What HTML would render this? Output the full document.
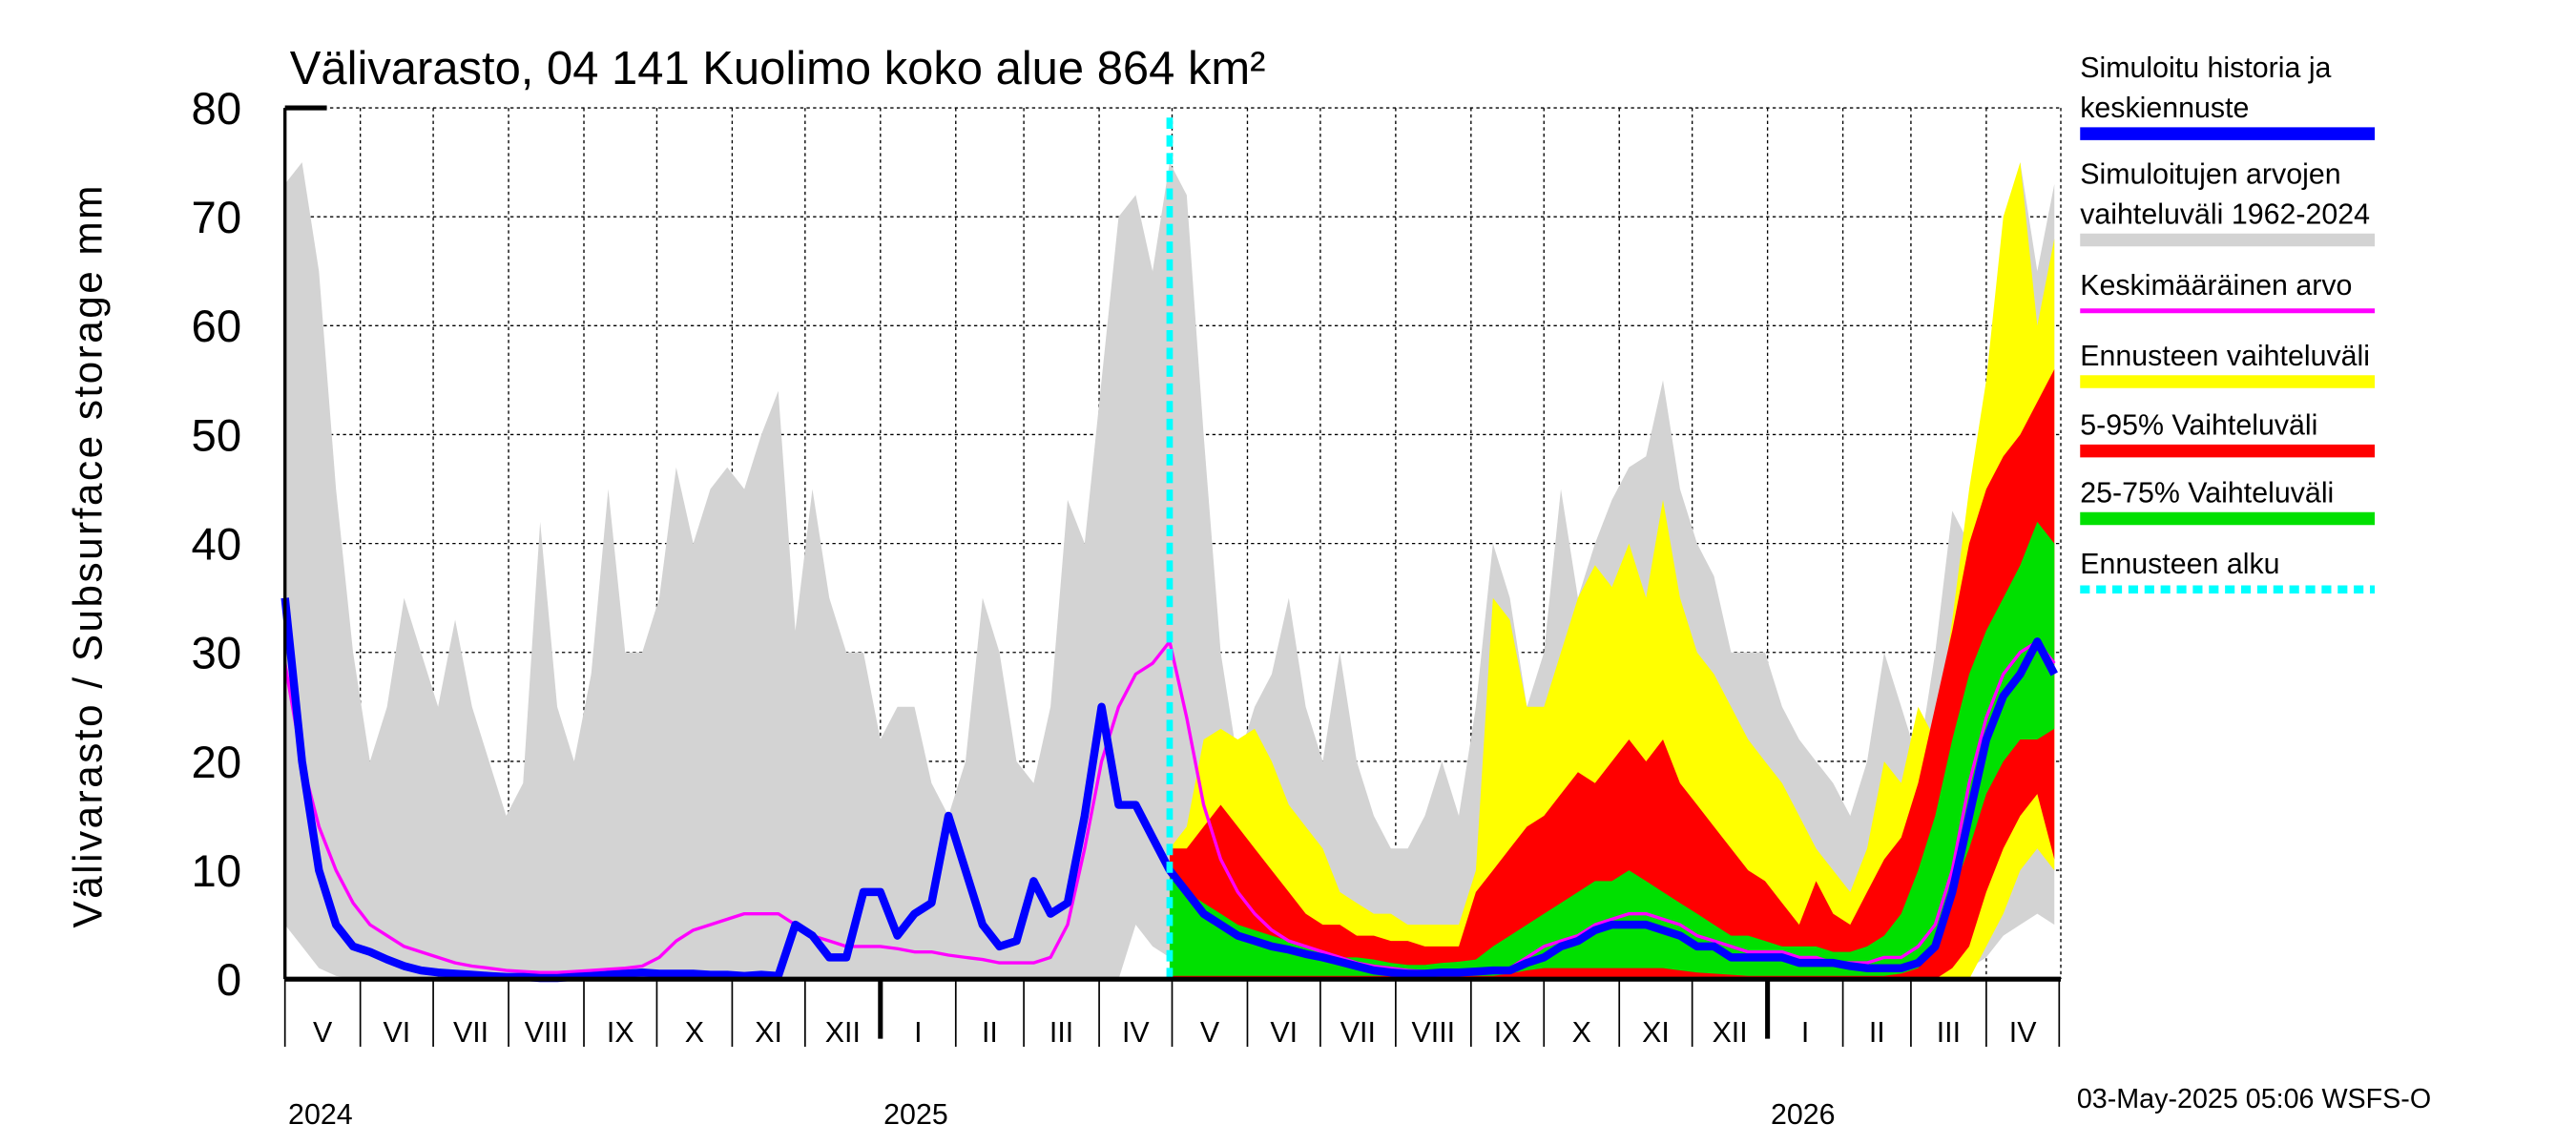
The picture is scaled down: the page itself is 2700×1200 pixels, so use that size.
<!DOCTYPE html>
<html><head><meta charset="utf-8"><style>
html,body{margin:0;padding:0;background:#fff;}
svg{display:block;font-family:"Liberation Sans",sans-serif;}
</style></head><body>
<svg id="chart" width="2700" height="1200" viewBox="0 0 1600 711" preserveAspectRatio="none" xmlns="http://www.w3.org/2000/svg">
<rect width="1600" height="711" fill="#fff"/>
<g id="grid"></g>
<g id="bands"></g>
<g id="lines"></g>
<g id="axes"></g>
<text x="180" y="52" font-size="29">Välivarasto, 04 141 Kuolimo koko alue 864 km²</text>
<text transform="translate(63,345) rotate(-90)" text-anchor="middle" font-size="25" letter-spacing="1.5">Välivarasto / Subsurface storage  mm</text>
<text x="1290" y="688" font-size="17">03-May-2025 05:06 WSFS-O</text>
<g id="legend"></g>
</svg>
<script>
// weekly samples from 2024-05-01 (week index 0..104)
const grayUpper=[73,75,65,45,30,20,25,35,30,25,33,25,20,15,18,42,25,20,28,45,30,30,35,47,40,45,47,45,50,54,32,45,35,30,30,22,25,25,18,15,20,35,30,20,18,25,44,40,55,70,72,65,75,72,50,30,20,25,28,35,25,20,30,20,15,12,12,15,20,15,25,40,35,25,30,45,35,40,44,47,48,55,45,40,37,30,30,30,25,22,20,18,15,20,30,25,20,30,43,40,55,68,75,65,73];
const grayLower=[5,3,1,0.3,0,0,0,0,0,0,0,0,0,0,0,0,0,0,0,0,0,0,0,0,0,0,0,0,0,0,0,0,0,0,0,0,0,0,0,0,0,0,0,0,0,0,0,0,0,0,5,3,2,0.5,0,0,0,0,0,0,0,0,0,0,0,0,0,0,0,0,0,0,0,0,0,0,0,0,0,0,0,0,0,0,0,0,0,0,0,0,0,0,0,0,0,0,0,0,0,1,2,4,5,6,5];
const blueMedian=[35,20,10,5,3,2.5,1.8,1.2,0.8,0.6,0.5,0.4,0.3,0.2,0.2,0.1,0.1,0.2,0.3,0.4,0.5,0.6,0.5,0.5,0.5,0.4,0.4,0.3,0.4,0.3,5,4,2,2,8,8,4,6,7,15,10,5,3,3.5,9,6,7,15,25,16,16,13,10,8,6,5,4,3.5,3,2.7,2.3,2,1.6,1.2,0.8,0.6,0.5,0.5,0.6,0.6,0.7,0.8,0.8,1.5,2,3,3.5,4.5,5,5,5,4.5,4,3,3,2,2,2,2,1.5,1.5,1.5,1.2,1,1,1,1.5,3,8,15,22,26,28,31,28];
const meanValue=[29,20,14,10,7,5,4,3,2.5,2,1.5,1.2,1,0.8,0.7,0.6,0.6,0.7,0.8,0.9,1,1.2,2,3.5,4.5,5,5.5,6,6,6,5,4,3.5,3,3,3,2.8,2.5,2.5,2.2,2,1.8,1.5,1.5,1.5,2,5,12,20,25,28,29,31,24,16,11,8,6,4.5,3.5,3,2.5,2,1.5,1.2,1,0.8,0.7,0.7,0.7,0.8,1,1,2,3,3.5,4,5,5.5,6,6,5.5,5,4,3.5,3,2.5,2.5,2.5,2,2,1.5,1.5,1.5,2,2,3,5,10,18,24,28,30,31,29];
// forecast bands, weeks 52..104
const fcStart=52;
const yellowUpper=[12,14,22,23,22,23,20,16,14,12,8,7,6,6,5,5,5,5,10,35,33,25,25,30,35,38,36,40,35,44,35,30,28,25,22,20,18,15,12,10,8,12,20,18,25,22,33,45,55,70,75,60,68];
const yellowLower=[0,0,0,0,0,0,0,0,0,0,0,0,0,0,0,0,0,0,0,0,0,0,0,0,0,0,0,0,0,0,0,0,0,0,0,0,0,0,0,0,0,0,0,0,0,0,0,0,3,6,10,12,10];
const redUpper=[12,12,14,16,14,12,10,8,6,5,5,4,4,3.5,3.5,3,3,3,8,10,12,14,15,17,19,18,20,22,20,22,18,16,14,12,10,9,7,5,9,6,5,8,11,13,18,25,32,40,45,48,50,53,56];
const redLower=[0,0,0,0,0,0,0,0,0,0,0,0,0,0,0,0,0,0,0,0,0,0,0,0,0,0,0,0,0,0,0,0,0,0,0,0,0,0,0,0,0,0,0,0,0,0,1,3,8,12,15,17,11];
const greenUpper=[10,8,7,6,5,4.5,4,3.5,3,2.5,2,2,1.8,1.5,1.3,1.3,1.5,1.6,1.8,3,4,5,6,7,8,9,9,10,9,8,7,6,5,4,4,3.5,3,3,3,2.5,2.5,3,4,6,10,15,22,28,32,35,38,42,40];
const greenLower=[0.3,0.3,0.3,0.3,0.3,0.3,0.3,0.3,0.3,0.3,0.3,0.3,0.3,0.3,0.3,0.3,0.3,0.3,0.3,0.3,0.5,0.8,1,1,1,1,1,1,1,1,0.8,0.6,0.5,0.4,0.3,0.3,0.3,0.3,0.3,0.3,0.3,0.3,0.3,0.5,1,3,8,12,17,20,22,22,23];
const yTicks=[0,10,20,30,40,50,60,70,80];
const monthLabels=["V","VI","VII","VIII","IX","X","XI","XII","I","II","III","IV","V","VI","VII","VIII","IX","X","XI","XII","I","II","III","IV"];
const yearLabels=["2024","2025","2026"];
const yearMonthIdx=[0,8,20];

const X0=177,X1=1280,Y0=608,Y1=67;
const pxPerDay=(1097-546)/365;
const xDay=d=>X0+d*pxPerDay;
const xW=w=>xDay(w*7);
const yV=v=>Y0-(v/80)*(Y0-Y1);
const NS="http://www.w3.org/2000/svg";
function mk(tag,parent,attrs){const e=document.createElementNS(NS,tag);for(const k in attrs)e.setAttribute(k,attrs[k]);parent.appendChild(e);return e;}
const grid=document.getElementById('grid'),bands=document.getElementById('bands'),lines=document.getElementById('lines'),axes=document.getElementById('axes'),legend=document.getElementById('legend');

const monthDays=[31,30,31,31,30,31,30,31,31,28,31,30,31,30,31,31,30,31,30,31,31,28,31,30];
let starts=[0];for(let i=0;i<monthDays.length;i++)starts.push(starts[i]+monthDays[i]);
yTicks.forEach(v=>{
  const l=mk('line',grid,{x1:X0,x2:X1,y1:yV(v),y2:yV(v),stroke:'#000','stroke-width':0.8,'stroke-dasharray':'2,2'});
  
  
  const t=mk('text',axes,{x:150,y:yV(v)+10,'text-anchor':'end','font-size':28});
  t.textContent=v;
  
  
});
starts.slice(1,-1).forEach(d=>{
  const l=mk('line',grid,{x1:xDay(d),x2:xDay(d),y1:Y1,y2:Y0,stroke:'#000','stroke-width':0.8,'stroke-dasharray':'2,2'});
  
  
});
mk('line',grid,{x1:X1,x2:X1,y1:Y1,y2:Y0,stroke:'#000','stroke-width':0.8,'stroke-dasharray':'2,2'});

function band(upper,lower,off,color,name){
  let pts=[];
  upper.forEach((v,i)=>pts.push(xW(i+off).toFixed(1)+','+yV(v).toFixed(1)));
  for(let i=lower.length-1;i>=0;i--)pts.push(xW(i+off).toFixed(1)+','+yV(lower[i]).toFixed(1));
  const p=mk('polygon',bands,{points:pts.join(' '),fill:color});
  
  
}
band(grayUpper,grayLower,0,'#d3d3d3','historical-range-band');
band(yellowUpper,yellowLower,fcStart,'#ffff00','forecast-range-band');
band(redUpper,redLower,fcStart,'#ff0000','forecast-5-95-band');
band(greenUpper,greenLower,fcStart,'#00e000','forecast-25-75-band');

function line(vals,color,w,name){
  const p=mk('polyline',lines,{points:vals.map((v,i)=>xW(i).toFixed(1)+','+yV(v).toFixed(1)).join(' '),fill:'none',stroke:color,'stroke-width':w,'stroke-linejoin':'round'});
  
  
}
line(meanValue,'#ff00ff',2,'mean-value-line');
line(blueMedian,'#0000ff',5,'simulated-median-line');
const fc=mk('line',lines,{x1:xW(fcStart),x2:xW(fcStart),y1:Y1+6,y2:Y0,stroke:'#00ffff','stroke-width':4,'stroke-dasharray':'7,4'});



mk('line',axes,{x1:X0,x2:X0,y1:Y1,y2:Y0,stroke:'#000','stroke-width':2});
mk('line',axes,{x1:X0,x2:X1,y1:Y0,y2:Y0,stroke:'#000','stroke-width':3});
mk('line',axes,{x1:X0,x2:203,y1:Y1,y2:Y1,stroke:'#000','stroke-width':3});
starts.forEach((d,i)=>{
  const yr=(i===8||i===20);
  mk('line',axes,{x1:xDay(d),x2:xDay(d),y1:Y0,y2:yr?645:650,stroke:'#000','stroke-width':yr?3:1});
});
monthLabels.forEach((m,i)=>{
  const t=mk('text',axes,{x:(xDay(starts[i])+xDay(starts[i+1]))/2,y:647,'text-anchor':'middle','font-size':18});
  t.textContent=m;
  
  
});
yearLabels.forEach((y,i)=>{
  const t=mk('text',axes,{x:xDay(starts[yearMonthIdx[i]])+2,y:698,'font-size':18});
  t.textContent=y;
  
  
});

const legText=[["Simuloitu historia ja","keskiennuste"],["Simuloitujen arvojen","vaihteluväli 1962-2024"],["Keskimääräinen arvo"],["Ennusteen vaihteluväli"],["5-95% Vaihteluväli"],["25-75% Vaihteluväli"],["Ennusteen alku"]];
const legColor=['#0000ff','#d3d3d3','#ff00ff','#ffff00','#ff0000','#00e000','#00ffff'];
const legSwY=[83,149,193,237,280,322,366];
const legSwW=[8,8,3,8,8,8,5];
legText.forEach((lines2,i)=>{
  const g=mk('g',legend,{});
  
  
  lines2.forEach((s,j)=>{
    const t=mk('text',g,{x:1292,y:legSwY[i]-10-(lines2.length-1-j)*25,'font-size':18});
    t.textContent=s;
  });
  const a={x1:1292,x2:1475,y1:legSwY[i],y2:legSwY[i],stroke:legColor[i],'stroke-width':legSwW[i]};
  if(i===6)a['stroke-dasharray']='6,4';
  mk('line',g,a);
});
</script>
</body></html>
